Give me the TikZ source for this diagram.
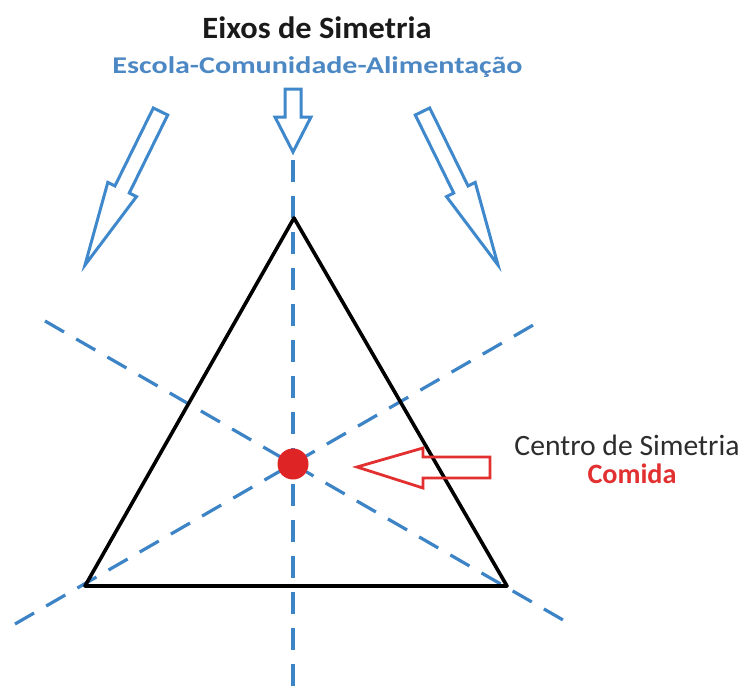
\documentclass[tikz,border=0pt]{standalone}
\usepackage{fontspec}
\setmainfont{Carlito}
\usepackage{graphicx}
\definecolor{axisblue}{RGB}{60,132,198}
\definecolor{arrowblue}{RGB}{63,136,204}
\definecolor{subblue}{RGB}{76,136,196}
\definecolor{dotred}{RGB}{222,36,36}
\definecolor{arrowred}{RGB}{226,48,48}
\definecolor{titlecol}{RGB}{26,26,26}
\definecolor{labelcol}{RGB}{45,45,45}
\begin{document}
\begin{tikzpicture}[x=1pt,y=-1pt,
  axis/.style={draw=axisblue,line width=3.2pt,dash pattern=on 22pt off 14pt},
  tri/.style={draw=black,line width=3.6pt,line join=round},
  bluearrow/.style={draw=arrowblue,line width=3pt,line join=miter},
  redarrow/.style={draw=arrowred,line width=2.8pt,line join=miter},
  lbl/.style={inner sep=0pt,anchor=base}]
\useasboundingbox (0,0) rectangle (748,697);
\fill[white] (0,0) rectangle (748,697);
% points
\coordinate (A) at (294,218);
\coordinate (B) at (85,586);
\coordinate (C) at (507,586);
\coordinate (O) at (293,464);
\coordinate (v1) at (293,160);
\coordinate (v2) at (293,697);
\coordinate (d1a) at (15,624);
\coordinate (d1b) at (535,324);
\coordinate (d2a) at (45,321);
\coordinate (d2b) at (570,624);
% axes of symmetry
\draw[axis] (v1) -- (v2);
\draw[axis] (d1a) -- (d1b);
\draw[axis] (d2a) -- (d2b);
% triangle
\draw[tri] (A) -- (B) -- (C) -- cycle;
% centre dot
\node[circle,fill=dotred,minimum size=31pt,inner sep=0pt] (dot) at (O) {};
% blue block arrows
\draw[bluearrow] (153.3,108.0) -- (167.7,115.0) -- (129.3,193.0) -- (136.5,196.6)
  -- (85,265) -- (107.8,182.4) -- (114.9,186.0) -- cycle;
\draw[bluearrow] (285,89) -- (301,89) -- (301,117) -- (311,117) -- (293,152)
  -- (275,117) -- (285,117) -- cycle;
\draw[bluearrow] (429.7,108.0) -- (415.3,115.0) -- (453.7,193.0) -- (446.5,196.6)
  -- (498,265) -- (475.2,182.4) -- (468.1,186.0) -- cycle;
% red block arrow
\draw[redarrow] (357,467) -- (423,448) -- (423,457) -- (490,457) -- (490,478)
  -- (423,478) -- (423,488) -- cycle;
% texts
\node[lbl,text=titlecol,font=\bfseries\fontsize{31}{31}\selectfont] (title) at (317,38)
  {\resizebox{229pt}{\height}{Eixos de Simetria}};
\node[lbl,text=subblue,font=\bfseries\fontsize{24}{24}\selectfont] (sub) at (317.5,73)
  {\resizebox{410pt}{\height}{Escola-Comunidade-Alimentação}};
\node[lbl,text=labelcol,font=\fontsize{29.5}{29.5}\selectfont] (centro) at (627,455)
  {\resizebox{225pt}{\height}{Centro de Simetria}};
\node[lbl,text=arrowred,font=\bfseries\fontsize{28}{28}\selectfont] (comida) at (632,483)
  {\resizebox{89pt}{\height}{Comida}};
\end{tikzpicture}
\end{document}
